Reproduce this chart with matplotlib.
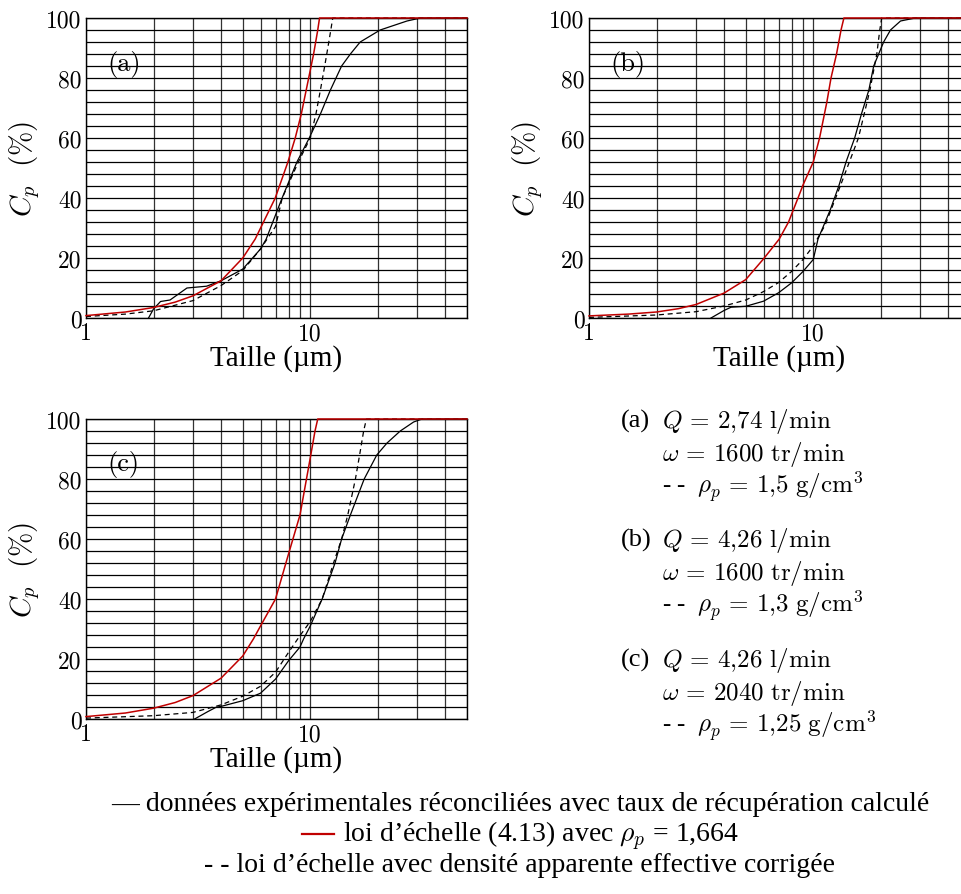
import numpy as np
import matplotlib
matplotlib.use("Agg")
import matplotlib.pyplot as plt
from matplotlib.lines import Line2D
from matplotlib.ticker import NullFormatter

plt.rcParams['font.family'] = ['Liberation Serif', 'DejaVu Serif']
plt.rcParams['mathtext.fontset'] = 'cm'

# --- données (taille en µm, Cp en %) ---
# (a)
a_red_x = [1, 1.5, 2, 2.5, 3, 4, 5, 5.68, 6.98, 7.95, 8.57, 9.12, 9.84, 10.35, 10.8, 11.0, 50]
a_red_y = [0.8, 2.0, 3.5, 5.3, 7.4, 12.4, 20.0, 26.3, 40, 52, 60, 68, 80, 88, 96, 100, 100]
a_exp_x = [1.9, 2.0, 2.15, 2.37, 2.82, 3.45, 4, 5, 6, 6.36, 7.49, 8.72, 9.9, 11.1, 12.3,
           13.8, 15.1, 16.7, 20.5, 27, 31, 50]
a_exp_y = [0, 3, 5.5, 6, 10, 10.6, 12.4, 16.3, 23, 26.3, 40, 52, 60, 68, 76,
           84, 88, 92, 96, 99, 100, 100]
a_dash_x = [1, 1.5, 2, 3, 4, 5, 6, 7, 7.5, 8.85, 10, 10.6, 11.1, 11.6, 12.1, 12.6, 50]
a_dash_y = [0.5, 1.3, 2.4, 5.8, 10.8, 15.8, 23, 30.5, 40, 52, 60, 68, 76, 84, 92, 100, 100]

# (b)
b_red_x = [1, 1.5, 2, 2.5, 3, 4, 5, 6, 7.05, 7.76, 8.55, 9, 10, 10.67, 11.5, 12.0, 12.7,
           13.3, 13.7, 50]
b_red_y = [0.7, 1.3, 2.0, 3.1, 4.5, 8.3, 12.8, 19.7, 26.3, 32, 40, 44.3, 52, 60, 72, 80, 88,
           96, 100, 100]
b_exp_x = [3.5, 4.0, 4.3, 5, 6, 7, 8, 9, 10, 10.5, 11.9, 13.0, 14.0, 15.3, 16.4, 17.7,
           18.6, 20.6, 22.1, 24.5, 28.5, 50]
b_exp_y = [0, 2.5, 3.6, 3.9, 5.6, 8.4, 11.7, 15.5, 19.5, 26.3, 36, 44, 52, 60, 68, 76,
           84, 92, 96, 99, 100, 100]
b_dash_x = [1, 2, 3, 4, 5, 6, 7, 8, 9, 10, 11.3, 13.2, 15.9, 17.9, 19.2, 19.8, 20.2, 50]
b_dash_y = [0.2, 1.0, 2.1, 4.0, 6.0, 8.8, 11.8, 15.5, 19.5, 24, 31, 44, 60, 76, 88, 96, 100, 100]

# (c)
c_red_x = [1, 1.5, 2, 2.5, 3, 4, 5, 5.58, 6, 7, 8, 9, 10, 10.5, 10.8, 50]
c_red_y = [0.8, 2.0, 3.6, 5.5, 7.8, 13.6, 21, 26.7, 31, 40, 55, 68, 87, 96, 100, 100]
c_exp_x = [3.05, 3.5, 3.8, 4, 5, 6, 7, 8, 9, 9.34, 10, 11.3, 12.9, 13.8, 15.1, 17.4,
           19.8, 22, 25.2, 28.9, 31.5, 50]
c_exp_y = [0, 2.5, 3.9, 4.2, 6.1, 8.6, 13.3, 19.4, 24, 26.7, 31, 40, 52, 60, 68, 80,
           88, 92, 96, 99, 100, 100]
c_dash_x = [1, 2, 3, 4, 5, 6, 7, 8, 9, 10, 11.3, 12.7, 13.8, 14.7, 15.9, 16.6, 17.3, 17.8, 50]
c_dash_y = [0.3, 1.1, 2.2, 4.7, 7.6, 10.9, 15.6, 22.2, 27.8, 32.5, 40, 52, 60, 68, 80, 88,
            96, 100, 100]

panels = ['(a)', '(b)', '(c)']
conditions = [
    ('2{,}74', '1600', '1{,}5'),
    ('4{,}26', '1600', '1{,}3'),
    ('4{,}26', '2040', '1{,}25'),
]

RED = '#c00000'
W, H = 961, 895
fig = plt.figure(figsize=(W / 100, H / 100), dpi=100)


def make_ax(left_px, top_px):
    ax = fig.add_axes([left_px / W, (H - top_px - 300) / H, 381 / W, 300 / H])
    ax.set_xscale('log')
    ax.set_xlim(1, 50)
    ax.set_ylim(0, 100)
    ax.set_xticks([1, 10])
    ax.set_xticks([2, 3, 4, 5, 6, 7, 8, 9, 20, 30, 40, 50], minor=True)
    ax.xaxis.set_minor_formatter(NullFormatter())
    ax.set_xticklabels(['1', '10'], fontfamily='cmr10', fontsize=17)
    ax.set_yticks([0, 20, 40, 60, 80, 100])
    ax.set_yticks(np.arange(4, 100, 4), minor=True)
    ax.set_yticklabels(['0', '20', '40', '60', '80', '100'], fontfamily='cmr10', fontsize=17)
    ax.tick_params(which='both', length=0)
    ax.tick_params(axis='y', pad=3)
    ax.tick_params(axis='x', pad=3)
    ax.grid(True, which='both', axis='y', color='black', lw=0.9)
    ax.grid(True, which='both', axis='x', color='#333333', lw=0.9)
    ax.set_axisbelow(True)
    for s in ax.spines.values():
        s.set_linewidth(1.0)
    ax.set_xlabel('Taille (µm)', fontsize=21, labelpad=0)
    ax.set_ylabel(r'$C_p\ \ (\%)$', fontsize=21, labelpad=3)
    return ax


def draw(ax, label, rx, ry, ex, ey, dx, dy):
    ax.plot(ex, ey, color='black', lw=0.9, clip_on=False, zorder=3)
    ax.plot(dx, dy, color='black', lw=0.9, ls=(0, (4, 3)), clip_on=False, zorder=3)
    ax.plot(rx, ry, color=RED, lw=1.1, clip_on=False, zorder=4)
    ax.text(0.055, 0.85, label, transform=ax.transAxes, fontfamily='cmr10',
            fontsize=19, va='center', ha='left')


ax_a = make_ax(86, 19)
draw(ax_a, panels[0], a_red_x, a_red_y, a_exp_x, a_exp_y, a_dash_x, a_dash_y)
ax_b = make_ax(589, 19)
draw(ax_b, panels[1], b_red_x, b_red_y, b_exp_x, b_exp_y, b_dash_x, b_dash_y)
ax_c = make_ax(86, 420)
draw(ax_c, panels[2], c_red_x, c_red_y, c_exp_x, c_exp_y, c_dash_x, c_dash_y)

# bloc de conditions à droite
base_y = [428, 547, 667]
for lab, (q, w, rho), y0 in zip(panels, conditions, base_y):
    fig.text(621 / W, 1 - y0 / H, lab, fontsize=19, va='baseline', ha='left')
    fig.text(662 / W, 1 - y0 / H, r'$Q \,=\, %s\ \mathrm{l/min}$' % q,
             fontsize=18, va='baseline', ha='left')
    fig.text(662 / W, 1 - (y0 + 33) / H, r'$\omega \,=\, %s\ \mathrm{tr/min}$' % w,
             fontsize=18, va='baseline', ha='left')
    fig.text(662 / W, 1 - (y0 + 66) / H, r'- -  $\rho_p \,=\, %s\ \mathrm{g/cm^3}$' % rho,
             fontsize=18, va='baseline', ha='left')

# légende en bas, lignes centrées
CX = 520
fig.text(CX / W, 1 - 811 / H,
         '— données expérimentales réconciliées avec taux de récupération calculé',
         fontsize=20, ha='center', va='baseline')
fig.text(CX / W, 1 - 872 / H,
         '- - loi d’échelle avec densité apparente effective corrigée',
         fontsize=20, ha='center', va='baseline')

t2 = fig.text(0, 1 - 842 / H, r'loi d’échelle (4.13) avec $\rho_p$ = 1,664',
              fontsize=20, ha='left', va='baseline')
renderer = fig.canvas.get_renderer()
tw = t2.get_window_extent(renderer).width
dash_w, gap = 32, 9
x0 = CX - (dash_w + gap + tw) / 2
t2.set_x((x0 + dash_w + gap) / W)
fig.add_artist(Line2D([x0 / W, (x0 + dash_w) / W], [1 - 835 / H, 1 - 835 / H],
                      color=RED, lw=1.6, transform=fig.transFigure))

fig.savefig('out.png', dpi=100)
